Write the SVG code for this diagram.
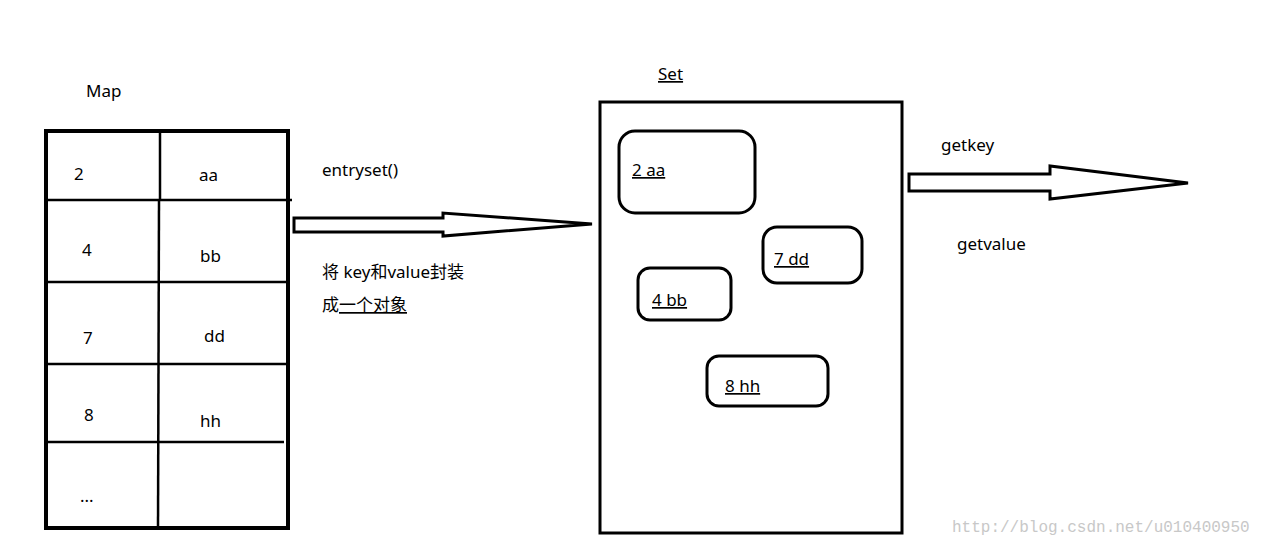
<svg xmlns="http://www.w3.org/2000/svg" width="1273" height="546" viewBox="0 0 1273 546">
<style>
text{font-family:"Noto Sans","Noto Sans CJK SC",sans-serif;font-size:17px;fill:#000}
.u{text-decoration:underline}
.b{fill:none;stroke:#000;stroke-width:3}
.l{stroke:#000;stroke-width:2.5}
.a{fill:#fff;stroke:#000;stroke-width:3;stroke-linejoin:miter}
</style>
<rect width="1273" height="546" fill="#fff"/>
<g id="map">
<text x="86" y="97">Map</text>
<rect x="46" y="131" width="242" height="397" class="b" stroke-width="4" style="stroke-width:4"/>
<line x1="160" y1="131" x2="160" y2="200" class="l"/>
<line x1="159" y1="200" x2="158" y2="528" class="l"/>
<line x1="46" y1="200" x2="292" y2="200" class="l"/>
<line x1="46" y1="282" x2="286" y2="282" class="l"/>
<line x1="46" y1="364" x2="286" y2="364" class="l"/>
<line x1="46" y1="442" x2="284" y2="442" class="l"/>
<text x="74" y="180">2</text><text x="199" y="181">aa</text>
<text x="82" y="256">4</text><text x="200" y="262">bb</text>
<text x="83" y="344">7</text><text x="204" y="342">dd</text>
<text x="84" y="421">8</text><text x="200" y="427">hh</text>
<text x="80" y="502">...</text>
</g>
<g id="set">
<text x="658" y="80" class="u">Set</text>
<rect x="600" y="102" width="302" height="431" class="b"/>
</g>
<g id="e1"><rect x="619" y="131" width="136" height="82" rx="16" class="b"/><text x="632" y="176" class="u">2  aa</text></g>
<g id="e2"><rect x="763" y="227" width="99" height="56" rx="14" class="b"/><text x="774" y="265" class="u">7  dd</text></g>
<g id="e3"><rect x="638" y="268" width="93" height="52" rx="12" class="b"/><text x="652" y="306" class="u">4 bb</text></g>
<g id="e4"><rect x="707" y="356" width="121" height="50" rx="12" class="b"/><text x="725" y="392" class="u">8   hh</text></g>
<g id="connectors">
<polygon points="294,218 443,218 443,213 592,224 443,236 443,232 294,232" class="a"/>
<polygon points="909,174 1050,174 1050,166 1188,183 1050,199 1050,191 909,191" class="a"/>
</g>
<text x="322" y="176">entryset()</text>
<text x="322" y="278">将 key和value封装</text>
<text x="322" y="311">成<tspan class="u">一个对象</tspan></text>
<text x="941" y="151">getkey</text>
<text x="957" y="250">getvalue</text>
<text x="952" y="532" style="font-family:'Liberation Mono',monospace;font-size:16px;fill:#c8c8c8">http://blog.csdn.net/u010400950</text>
</svg>
